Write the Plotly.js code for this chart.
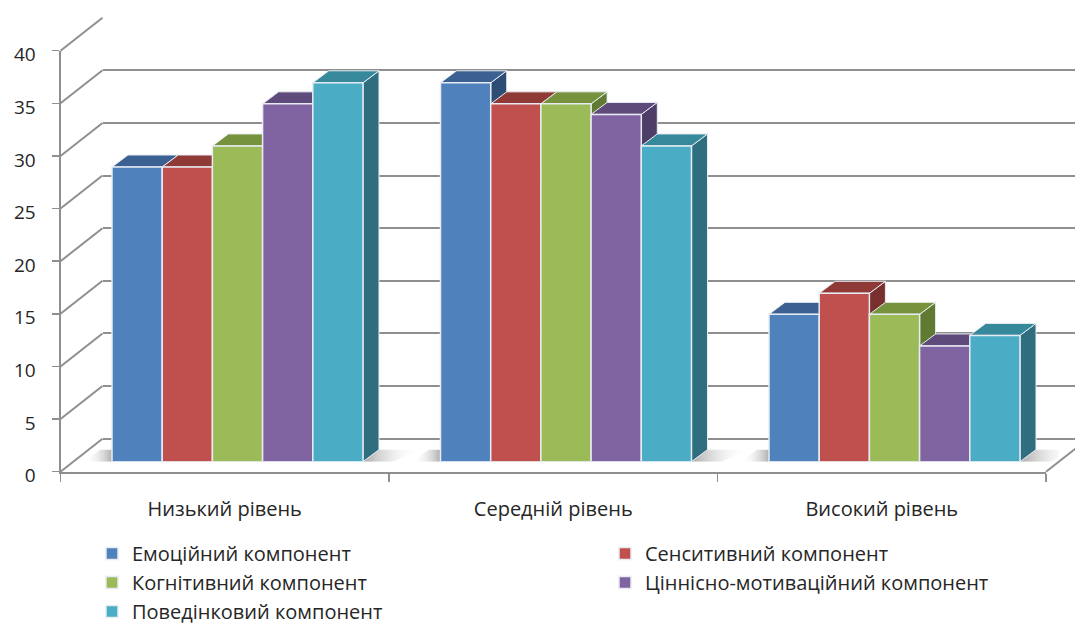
<!DOCTYPE html>
<html><head><meta charset="utf-8">
<script src="https://cdn.plot.ly/plotly-3.0.1.min.js"></script>
<style>html,body{margin:0;padding:0;background:#fff}#chart{width:1075px;height:624px}</style>
</head><body><div id="chart"></div>
<script>
// ---- data ----
const categories = ['Низький рівень', 'Середній рівень', 'Високий рівень'];
const seriesNames = ['Емоційний компонент', 'Сенситивний компонент', 'Когнітивний компонент', 'Ціннісно-мотиваційний компонент', 'Поведінковий компонент'];
const emotional = [28, 36, 14];
const sensitive = [28, 34, 16];
const cognitive = [30, 34, 14];
const valueMotivational = [34, 33, 11];
const behavioral = [36, 30, 12];
const yTicks = [0, 5, 10, 15, 20, 25, 30, 35, 40];

const seriesValues = [emotional, sensitive, cognitive, valueMotivational, behavioral];

// ---- styles ----
const frontColors = ['#4F81BD', '#C0504D', '#9BBB59', '#8064A2', '#4BACC6'];
const topColors = ['#3A6191', '#8F3A37', '#76923C', '#5F4B7B', '#36889B'];
const sideColors = ['#2E4D74', '#782F2D', '#617A32', '#4E3D66', '#2E6E7E'];
const gridColor = '#8f8f8f';
const edgeColor = '#e8ecf2';
const textColor = '#262626';
const FONT = 'Open Sans, Arial, sans-serif';

// ---- geometry (pixels) ----
const W = 1075, H = 624;
const fx0 = 60.5, fx1 = 1046;        // front plane x extent
const fy0 = 471.7;                   // front plane y of value 0
const ppu = 10.525;                  // pixels per value unit
const yMax = 40;
const backDx = 42, backDy = 33;      // back wall offset
const barDx = 12.75, barDy = 10;     // bar plane offset
const depthDx = 16, depthDy = 12;    // bar depth
const bargap = 0.236;
const nCat = categories.length;
const catPx = (fx1 - fx0) / nCat;

const px = x => x / W;
const py = y => 1 - y / H;

// ---- traces ----
const traces = [];
const catIdx = categories.map((c, i) => i);

// empty traces so that the back-wall and front-axis subplots are drawn
traces.push({type: 'scatter', x: [], y: [], xaxis: 'x', yaxis: 'y', showlegend: false, hoverinfo: 'skip'});
traces.push({type: 'scatter', x: [], y: [], xaxis: 'x2', yaxis: 'y2', showlegend: false, hoverinfo: 'skip'});

const groupW = 1 - bargap;
const barW = groupW / seriesValues.length;
const ddx = depthDx / catPx, ddy = depthDy / ppu;
const u = p => p / catPx; // pixels -> category units

// soft floor shadows beside each bar group (x3/y3)
catIdx.forEach(c => {
  const gl = c - groupW / 2, gr = c + groupW / 2;
  traces.push({type: 'scatter', xaxis: 'x3', yaxis: 'y3', mode: 'none', fill: 'toself',
    x: [gl - u(28), gl, gl, gl - u(12), gl - u(28)], y: [0, 0, ddy, ddy, 0],
    fillcolor: 'rgba(150,150,150,0.25)',
    fillgradient: {type: 'horizontal', colorscale: [[0, 'rgba(255,255,255,0)'], [1, 'rgba(120,120,120,0.6)']]},
    showlegend: false, hoverinfo: 'skip'});
  traces.push({type: 'scatter', xaxis: 'x3', yaxis: 'y3', mode: 'none', fill: 'toself',
    x: [gr, gr + ddx, gr + ddx + u(40), gr + u(30), gr], y: [0, ddy, ddy, 0, 0],
    fillcolor: 'rgba(150,150,150,0.25)',
    fillgradient: {type: 'horizontal', colorscale: [[0, 'rgba(110,110,110,0.6)'], [1, 'rgba(255,255,255,0)']]},
    showlegend: false, hoverinfo: 'skip'});
});

// side and top faces (x3/y3)
seriesValues.forEach((vals, s) => {
  const sx = [], sy = [], tx = [], ty = [];
  vals.forEach((v, c) => {
    const xl = c - groupW / 2 + s * barW, xr = xl + barW;
    sx.push(xr, xr + ddx, xr + ddx, xr, xr, null);
    sy.push(0, ddy, v + ddy, v, 0, null);
    tx.push(xl, xr, xr + ddx, xl + ddx, xl, null);
    ty.push(v, v, v + ddy, v + ddy, v, null);
  });
  traces.push({type: 'scatter', x: sx, y: sy, xaxis: 'x3', yaxis: 'y3', mode: 'lines', fill: 'toself',
    fillcolor: sideColors[s], line: {color: edgeColor, width: 1}, showlegend: false, hoverinfo: 'skip'});
  traces.push({type: 'scatter', x: tx, y: ty, xaxis: 'x3', yaxis: 'y3', mode: 'lines', fill: 'toself',
    fillcolor: topColors[s], line: {color: edgeColor, width: 1}, showlegend: false, hoverinfo: 'skip'});
});

// front faces (x4/y4)
seriesValues.forEach((vals, s) => {
  traces.push({type: 'bar', x: catIdx, y: vals, name: seriesNames[s], xaxis: 'x4', yaxis: 'y4',
    legend: s % 2 === 0 ? 'legend' : 'legend2',
    marker: {color: frontColors[s], line: {color: edgeColor, width: 1.5}}, hovertext: categories});
});

// ---- wall / floor decoration shapes ----
const shapes = [];
yTicks.forEach(v => {
  const y = fy0 - v * ppu;
  shapes.push({type: 'line', xref: 'paper', yref: 'paper', layer: 'below',
    x0: px(fx0), y0: py(y), x1: px(fx0 + backDx), y1: py(y - backDy),
    line: {color: gridColor, width: 2}});
});
shapes.push({type: 'line', xref: 'paper', yref: 'paper', layer: 'below',
  x0: px(fx1), y0: py(fy0), x1: px(fx1 + backDx), y1: py(fy0 - backDy),
  line: {color: gridColor, width: 2}});

const hidden = {visible: false, fixedrange: true};
const backXRangeEnd = -0.5 + (W - (fx0 + backDx)) / catPx;
const legendFont = {family: FONT, size: 20, color: textColor};

const layout = {
  width: W, height: H,
  margin: {l: 0, r: 0, t: 0, b: 0, pad: 0, autoexpand: false},
  paper_bgcolor: '#ffffff', plot_bgcolor: 'rgba(0,0,0,0)',
  font: {family: FONT, color: textColor, size: 18},
  barmode: 'group', bargap: bargap, bargroupgap: 0,
  showlegend: true,
  hovermode: false,
  legend: {orientation: 'v', x: 92 / W, y: py(534), xanchor: 'left', yanchor: 'top',
    font: legendFont, traceorder: 'normal', bgcolor: 'rgba(0,0,0,0)'},
  legend2: {orientation: 'v', x: 605 / W, y: py(534), xanchor: 'left', yanchor: 'top',
    font: legendFont, traceorder: 'normal', bgcolor: 'rgba(0,0,0,0)'},
  // back wall
  xaxis: {domain: [px(fx0 + backDx), 1], range: [-0.5, backXRangeEnd], anchor: 'y',
    showticklabels: false, ticks: '', showline: false, showgrid: false, zeroline: false, fixedrange: true},
  yaxis: {domain: [py(fy0 - backDy), py(fy0 - backDy - yMax * ppu)], range: [0, yMax], anchor: 'x',
    tickmode: 'array', tickvals: yTicks, showticklabels: false, ticks: '', showline: false,
    showgrid: true, gridcolor: gridColor, gridwidth: 2, zeroline: true, zerolinecolor: gridColor, zerolinewidth: 2, fixedrange: true},
  // front axes
  xaxis2: {domain: [px(fx0), px(fx1)], range: [-0.5, nCat - 0.5], anchor: 'y2',
    tickmode: 'array', tickvals: catIdx, ticktext: categories, ticks: '',
    minor: {tickmode: 'array', tickvals: [-0.5, 0.5, 1.5, 2.5], ticks: 'outside', ticklen: 8, tickcolor: gridColor, tickwidth: 1.5, showgrid: false},
    showline: true, linecolor: gridColor, linewidth: 2, showgrid: false, zeroline: false,
    tickfont: {family: FONT, size: 20, color: textColor}, ticklabelstandoff: 18, fixedrange: true},
  yaxis2: {domain: [py(fy0), py(fy0 - yMax * ppu)], range: [0, yMax], anchor: 'x2',
    tickmode: 'array', tickvals: yTicks, ticks: 'outside', ticklen: 7, tickcolor: gridColor, tickwidth: 1.5,
    showline: true, linecolor: gridColor, linewidth: 2, showgrid: false, zeroline: false,
    tickfont: {family: FONT, size: 19, color: textColor}, ticklabelstandoff: 12, ticklabelshift: 4, fixedrange: true},
  // bar plane
  xaxis3: Object.assign({domain: [px(fx0 + barDx), px(fx1 + barDx)], range: [-0.5, nCat - 0.5], anchor: 'y3'}, hidden),
  yaxis3: Object.assign({domain: [py(fy0 - barDy), py(fy0 - barDy - yMax * ppu)], range: [0, yMax], anchor: 'x3'}, hidden),
  xaxis4: Object.assign({domain: [px(fx0 + barDx), px(fx1 + barDx)], range: [-0.5, nCat - 0.5], anchor: 'y4'}, hidden),
  yaxis4: Object.assign({domain: [py(fy0 - barDy), py(fy0 - barDy - yMax * ppu)], range: [0, yMax], anchor: 'x4'}, hidden),
  shapes: shapes
};

Plotly.newPlot('chart', traces, layout, {displayModeBar: false, staticPlot: true});
</script>
</body></html>
